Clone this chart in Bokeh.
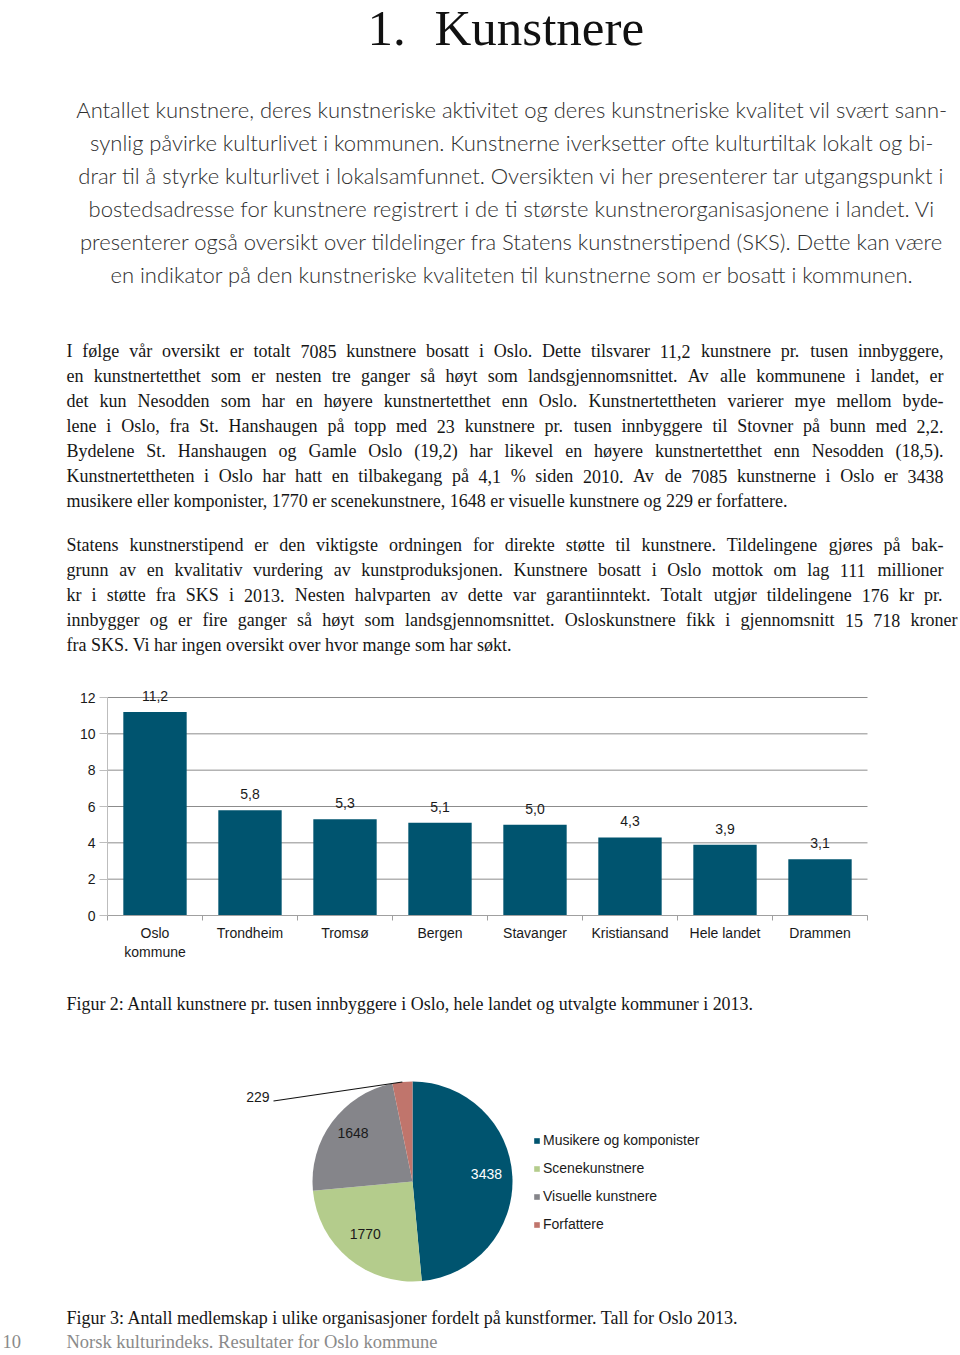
import glob, os, struct, math
from bokeh.plotting import figure
from bokeh.models import Range1d, FixedTicker, ColumnDataSource, Legend, LegendItem, LinearAxis
from bokeh.layouts import column
from bokeh.embed import file_html
from bokeh.resources import INLINE
from bokeh.core.properties import value

# ---------------- data ----------------
categories = ["Oslo kommune", "Trondheim", "Tromsø", "Bergen", "Stavanger",
              "Kristiansand", "Hele landet", "Drammen"]
tick_labels = ["Oslo\nkommune", "Trondheim", "Tromsø", "Bergen", "Stavanger",
               "Kristiansand", "Hele landet", "Drammen"]
density = [11.2, 5.8, 5.3, 5.1, 5.0, 4.3, 3.9, 3.1]
y_ticks = [0, 2, 4, 6, 8, 10, 12]

art_forms = ["Musikere og komponister", "Scenekunstnere", "Visuelle kunstnere", "Forfattere"]
members = [3438, 1770, 1648, 229]
pie_colors = ["#00546F", "#B4CC8C", "#85858A", "#C0756C"]

title_num = "1."
title_word = "Kunstnere"

intro_lines = [
    "Antallet kunstnere, deres kunstneriske aktivitet og deres kunstneriske kvalitet vil svært sann-",
    "synlig påvirke kulturlivet i kommunen. Kunstnerne iverksetter ofte kulturtiltak lokalt og bi-",
    "drar til å styrke kulturlivet i lokalsamfunnet. Oversikten vi her presenterer tar utgangspunkt i",
    "bostedsadresse for kunstnere registrert i de ti største kunstnerorganisasjonene i landet. Vi",
    "presenterer også oversikt over tildelinger fra Statens kunstnerstipend (SKS). Dette kan være",
    "en indikator på den kunstneriske kvaliteten til kunstnerne som er bosatt i kommunen.",
]

para1 = [
    "I følge vår oversikt er totalt 7085 kunstnere bosatt i Oslo. Dette tilsvarer 11,2 kunstnere pr. tusen innbyggere,",
    "en kunstnertetthet som er nesten tre ganger så høyt som landsgjennomsnittet. Av alle kommunene i landet, er",
    "det kun Nesodden som har en høyere kunstnertetthet enn Oslo. Kunstnertettheten varierer mye mellom byde-",
    "lene i Oslo, fra St. Hanshaugen på topp med 23 kunstnere pr. tusen innbyggere til Stovner på bunn med 2,2.",
    "Bydelene St. Hanshaugen og Gamle Oslo (19,2) har likevel en høyere kunstnertetthet enn Nesodden (18,5).",
    "Kunstnertettheten i Oslo har hatt en tilbakegang på 4,1 % siden 2010. Av de 7085 kunstnerne i Oslo er 3438",
    "musikere eller komponister, 1770 er scenekunstnere, 1648 er visuelle kunstnere og 229 er forfattere.",
]
para2 = [
    "Statens kunstnerstipend er den viktigste ordningen for direkte støtte til kunstnere. Tildelingene gjøres på bak-",
    "grunn av en kvalitativ vurdering av kunstproduksjonen. Kunstnere bosatt i Oslo mottok om lag 111 millioner",
    "kr i støtte fra SKS i 2013. Nesten halvparten av dette var garantiinntekt. Totalt utgjør tildelingene 176 kr pr.",
    "innbygger og er fire ganger så høyt som landsgjennomsnittet. Osloskunstnere fikk i gjennomsnitt 15 718 kroner",
    "fra SKS. Vi har ingen oversikt over hvor mange som har søkt.",
]
caption2 = "Figur 2: Antall kunstnere pr. tusen innbyggere i Oslo, hele landet og utvalgte kommuner i 2013."
caption3 = "Figur 3: Antall medlemskap i ulike organisasjoner fordelt på kunstformer. Tall for Oslo 2013."
page_no = "10"
footer = "Norsk kulturindeks. Resultater for Oslo kommune"

SERIF = "Liberation Serif"
SANS = "Liberation Sans"
PAGE_W = 960


# ---------------- font metrics (for justified text) ----------------
def find_font(name):
    for base in ["/usr/share/fonts", "/usr/local/share/fonts", os.path.expanduser("~/.fonts"),
                 os.path.expanduser("~/.local/share/fonts")]:
        hits = glob.glob(os.path.join(base, "**", name), recursive=True)
        if hits:
            return hits[0]
    return None


def load_width_fn(path, fallback=0.5):
    if path is None:
        return lambda s, size: len(s) * fallback * size
    try:
        data = open(path, "rb").read()
        ntab = struct.unpack(">H", data[4:6])[0]
        tables = {}
        for i in range(ntab):
            tag, cs, off, ln = struct.unpack(">4sIII", data[12 + 16 * i:28 + 16 * i])
            tables[tag.decode("latin1")] = off
        head = tables["head"]
        upem = struct.unpack(">H", data[head + 18:head + 20])[0]
        hhea = tables["hhea"]
        nhm = struct.unpack(">H", data[hhea + 34:hhea + 36])[0]
        hmtx = tables["hmtx"]
        adv = [struct.unpack(">H", data[hmtx + 4 * i:hmtx + 4 * i + 2])[0] for i in range(nhm)]
        cm = tables["cmap"]
        nsub = struct.unpack(">H", data[cm + 2:cm + 4])[0]
        mapping = {}
        for i in range(nsub):
            pid, eid, off = struct.unpack(">HHI", data[cm + 4 + 8 * i:cm + 12 + 8 * i])
            sub = cm + off
            fmt = struct.unpack(">H", data[sub:sub + 2])[0]
            if fmt != 4:
                continue
            segx2 = struct.unpack(">H", data[sub + 6:sub + 8])[0]
            seg = segx2 // 2
            ends = struct.unpack(">%dH" % seg, data[sub + 14:sub + 14 + segx2])
            starts = struct.unpack(">%dH" % seg, data[sub + 16 + segx2:sub + 16 + 2 * segx2])
            deltas = struct.unpack(">%dh" % seg, data[sub + 16 + 2 * segx2:sub + 16 + 3 * segx2])
            rpos = sub + 16 + 3 * segx2
            roffs = struct.unpack(">%dH" % seg, data[rpos:rpos + segx2])
            for s in range(seg):
                for c in range(starts[s], min(ends[s], 0x2FF) + 1):
                    if roffs[s] == 0:
                        g = (c + deltas[s]) & 0xFFFF
                    else:
                        a = rpos + 2 * s + roffs[s] + 2 * (c - starts[s])
                        g = struct.unpack(">H", data[a:a + 2])[0]
                        if g:
                            g = (g + deltas[s]) & 0xFFFF
                    mapping[c] = g
            break
        if not mapping:
            raise ValueError

        def wfn(s, size):
            t = 0
            for ch in s:
                g = mapping.get(ord(ch), 0)
                t += adv[min(g, nhm - 1)]
            return t * size / upem
        return wfn
    except Exception:
        return lambda s, size: len(s) * fallback * size


serif_w = load_width_fn(find_font("LiberationSerif-Regular.ttf"), 0.45)
_lato_light = find_font("Lato-Light.ttf")
if _lato_light:
    INTRO_FONT = "Lato Light, Lato"
    intro_w = load_width_fn(_lato_light, 0.5)
else:
    INTRO_FONT = "Lato"
    intro_w = load_width_fn(find_font("Lato-Regular.ttf"), 0.5)

BASE_SHIFT = 0.355   # rendered baseline sits this many em below the anchor


# ---------------- helpers ----------------
def bare_fig(height, xr, yr):
    p = figure(width=PAGE_W, height=height, x_range=xr, y_range=yr,
               output_backend="svg", toolbar_location=None, x_axis_location=None,
               y_axis_location=None, min_border=0, min_border_left=0, min_border_right=0,
               min_border_top=0, min_border_bottom=0, outline_line_color=None)
    p.xgrid.visible = False
    p.ygrid.visible = False
    return p


def text_canvas(top, bottom):
    # page-pixel coordinates, y growing downwards
    return bare_fig(bottom - top, Range1d(0, PAGE_W), Range1d(bottom, top))


def add_texts(p, xs, ys, texts, font, size, color, align="left"):
    ys = [y - BASE_SHIFT * size for y in ys]
    src = ColumnDataSource(dict(x=xs, y=ys, text=texts))
    p.text(x="x", y="y", text="text", source=src, text_font=value(font),
           text_font_size="%.2fpx" % size, text_color=color, text_align=align,
           text_baseline="alphabetic")


def justify(lines, x0, rights, y0, dy, size, wfn):
    xs, ys, ts = [], [], []
    for i, line in enumerate(lines):
        y = y0 + dy * i
        x1 = rights[i]
        words = line.split(" ")
        if x1 is None or len(words) < 2:
            xs.append(x0); ys.append(y); ts.append(line)
            continue
        ws = [wfn(w, size) for w in words]
        gap = (x1 - x0 - sum(ws)) / (len(words) - 1)
        x = x0
        for w, wd in zip(words, ws):
            xs.append(x); ys.append(y); ts.append(w)
            x += wd + gap
    return xs, ys, ts


# ---------------- section A: title and prose (page y 0..680) ----------------
A = text_canvas(0, 680)
add_texts(A, [367], [46], [title_num], SERIF, 51, "#111111")
add_texts(A, [434], [46], [title_word], SERIF, 51, "#111111")

intro_size = 883.0 / max(intro_w(intro_lines[0], 1.0), 1e-6)
intro_size = max(17.0, min(22.0, intro_size))
add_texts(A, [511.5] * len(intro_lines), [117 + 33 * i for i in range(len(intro_lines))],
          intro_lines, INTRO_FONT, intro_size, "#2e2e2e", align="center")

BODY = 18.0
r1 = [943, 943, 943, 943, 943, 943, None]
xs, ys, ts = justify(para1, 66, r1, 357, 25, BODY, serif_w)
add_texts(A, xs, ys, ts, SERIF, BODY, "#161616")
r2 = [943, 943, 943, 957, None]
xs, ys, ts = justify(para2, 66, r2, 551, 25, BODY, serif_w)
add_texts(A, xs, ys, ts, SERIF, BODY, "#161616")

# ---------------- section B: bar chart (page y 680..970) ----------------
B_TOP, B_BOT = 680, 970
X0_PX, UNIT_X = 107.0, 95.0          # category 0 left edge, px per category
Y0_PX, UNIT_Y = 915.0, 218.0 / 12    # value 0 baseline, px per unit
bx = Range1d(-X0_PX / UNIT_X, (PAGE_W - X0_PX) / UNIT_X)
by = Range1d(-(B_BOT - Y0_PX) / UNIT_Y, (Y0_PX - B_TOP) / UNIT_Y)
B = bare_fig(B_BOT - B_TOP, bx, by)

ncat = len(categories)
xpos = [i + 0.5 for i in range(ncat)]
bsrc = ColumnDataSource(dict(x=xpos, top=density, cat=categories,
                             lbl=[("%.1f" % v).replace(".", ",") for v in density]))
# horizontal grid lines from the tick list
B.segment(x0=[0] * len(y_ticks), x1=[ncat] * len(y_ticks), y0=y_ticks, y1=y_ticks,
          line_color="#8C8C8C", line_width=1)
B.vbar(x="x", top="top", width=0.667, bottom=0, source=bsrc, fill_color="#00546F", line_color=None)
B.text(x="x", y="top", text="lbl", source=bsrc, text_align="center", text_baseline="middle",
       y_offset=-16, text_font=value(SANS), text_font_size="14px", text_color="#1a1a1a")

ya = LinearAxis(fixed_location=0, ticker=FixedTicker(ticks=y_ticks), bounds=(0, 12))
ya.axis_line_color = "#BDBDBD"
ya.major_tick_line_color = "#BDBDBD"
ya.major_tick_out = 8
ya.major_tick_in = 0
ya.minor_tick_line_color = None
ya.major_label_standoff = 4
ya.major_label_text_font = SANS
ya.major_label_text_font_size = "14px"
ya.major_label_text_color = "#1a1a1a"
B.add_layout(ya, "left")

xa = LinearAxis(fixed_location=0,
                ticker=FixedTicker(ticks=xpos, minor_ticks=list(range(ncat + 1))),
                bounds=(0, ncat))
xa.major_label_overrides = {x: t for x, t in zip(xpos, tick_labels)}
xa.major_tick_line_color = None
xa.major_tick_out = 0
xa.major_tick_in = 0
xa.minor_tick_out = 5
xa.minor_tick_in = 0
xa.minor_tick_line_color = "#A0A0A0"
xa.axis_line_color = "#A0A0A0"
xa.major_label_standoff = 4
xa.major_label_text_font = SANS
xa.major_label_text_font_size = "14px"
xa.major_label_text_color = "#1a1a1a"
B.add_layout(xa, "below")

# ---------------- section C: caption (page y 970..1060) ----------------
C = text_canvas(970, 1060)
cap_size = 689.0 / max(serif_w(caption2, 1.0), 1e-6)
cap_size = max(15.5, min(19.0, cap_size))
add_texts(C, [66], [1010], [caption2], SERIF, cap_size, "#161616")

# ---------------- section D: pie (page y 1060..1300) ----------------
D_TOP, D_BOT = 1060, 1300
cx, cy, R = 412, 1181, 100
D = bare_fig(D_BOT - D_TOP, Range1d(-cx, PAGE_W - cx), Range1d(cy - D_BOT, cy - D_TOP))
total = float(sum(members))
starts, ends, cum = [], [], 0.0
for v in members:
    starts.append(math.pi / 2 - 2 * math.pi * cum / total)
    cum += v
    ends.append(math.pi / 2 - 2 * math.pi * cum / total)
psrc = ColumnDataSource(dict(start=starts, end=ends, color=pie_colors, label=art_forms, n=members))
wr = D.wedge(x=0, y=0, radius=R, start_angle="start", end_angle="end", direction="clock",
             fill_color="color", line_color=None, source=psrc)

in_x, in_y, in_t, in_c = [], [], [], []
for i, v in enumerate(members):
    mid = (starts[i] + ends[i]) / 2
    if v / total >= 0.05:
        in_x.append(0.74 * R * math.cos(mid)); in_y.append(0.74 * R * math.sin(mid) + 4)
        in_t.append(str(v)); in_c.append("#ffffff" if i == 0 else "#1a1a1a")
    else:
        ex, ey = R * math.cos(mid), R * math.sin(mid)
        D.line(x=[ex, -139], y=[ey, 80.5], line_color="#111111", line_width=1.2)
        D.text(x=[-143], y=[85], text=[str(v)], text_align="right", text_baseline="middle",
               text_font=value(SANS), text_font_size="14px", text_color="#1a1a1a")
D.text(x=in_x, y=in_y, text=in_t, text_color=in_c, text_align="center", text_baseline="middle",
       text_font=value(SANS), text_font_size="14px")

legend = Legend(items=[LegendItem(label=art_forms[i], renderers=[wr], index=i)
                       for i in range(len(art_forms))],
                location=(533, 66), glyph_width=7, glyph_height=7, label_height=20, spacing=8,
                label_standoff=3, padding=0, margin=0, border_line_color=None,
                background_fill_alpha=0, label_text_font=SANS, label_text_font_size="14px",
                label_text_color="#1a1a1a")
D.add_layout(legend)

# ---------------- section E: caption + footer (page y 1300..1354) ----------------
E = text_canvas(1300, 1354)
cap3_size = 675.0 / max(serif_w(caption3, 1.0), 1e-6)
cap3_size = max(15.5, min(19.0, cap3_size))
add_texts(E, [66], [1324], [caption3], SERIF, cap3_size, "#161616")
foot_size = 404.0 / max(serif_w(footer, 1.0), 1e-6)
foot_size = max(15.5, min(18.5, foot_size))
add_texts(E, [2], [1348], [page_no], SERIF, foot_size, "#8a8a8a")
add_texts(E, [66], [1348], [footer], SERIF, foot_size, "#8a8a8a")

layout = column(A, B, C, D, E, spacing=0)
open("out.html", "w").write(file_html(layout, INLINE, "Kunstnere"))
